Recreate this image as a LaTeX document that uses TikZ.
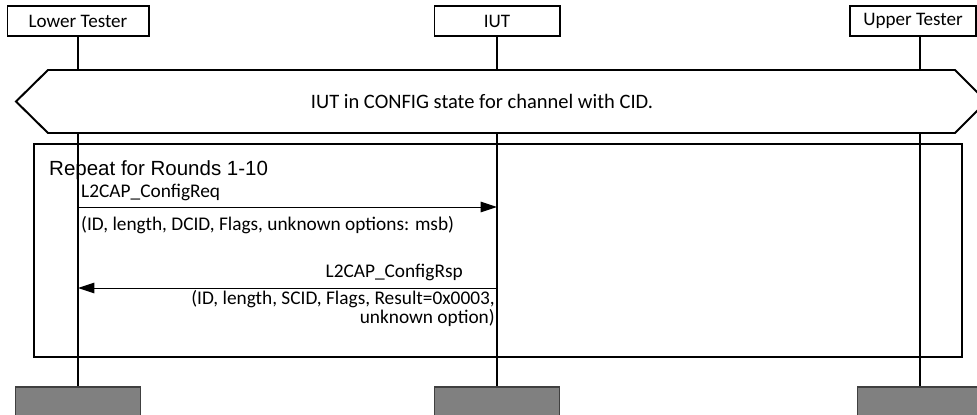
\documentclass[tikz,border=0pt]{standalone}
\usepackage{fontspec}
\setmainfont{Carlito}
\newfontfamily\arialfont{Liberation Sans}
\usetikzlibrary{arrows.meta}
\usetikzlibrary{positioning}
\tikzset{entity/.style={rectangle,draw=black,line width=1.7pt,fill=white,minimum height=0.9cm,inner sep=0pt,font=\fontsize{16.3}{17}\selectfont}}
\tikzset{endbox/.style={rectangle,draw=black!75,line width=1pt,fill=gray,minimum width=3.75cm,minimum height=1.2cm,inner sep=0pt}}
\tikzset{lifeline/.style={line width=1.7pt}}
\tikzset{msg/.style={line width=0.85pt,-{Triangle[length=14pt,width=9pt]}}}
\tikzset{lbl/.style={inner sep=0pt,font=\fontsize{16.5}{13.4}\selectfont}}

\begin{document}
\begin{tikzpicture}[x=0.03cm,y=-0.03cm]
\useasboundingbox (0,0) rectangle (977,414);

% entities
\node[entity, minimum width=4.23cm] (lt) at (78,21) {Lower Tester};
\node[entity, minimum width=3.75cm] (iut) at (497,21) {IUT};
\node[entity, minimum width=3.78cm] (ut) at (913,21) {Upper Tester};

\node[endbox] (ltend) at (78,407) {};
\node[endbox] (iutend) at (497,407) {};
\node[endbox] (utend) at (920,407) {};

\draw[lifeline] (lt.south -| ltend) -- (ltend);
\draw[lifeline] (iut) -- (iutend);
\draw[lifeline] (ut.south -| utend) -- (utend);

% state
\draw[line width=1.7pt, fill=white] (16,101.5) -- (48,70) -- (955,70) -- (986.5,101.5) -- (955,133) -- (48,133) -- cycle;
\node[lbl, font=\fontsize{17.5}{18}\selectfont] (state) at (482,101) {IUT in CONFIG state for channel with CID.};

% loop
\draw[line width=1.7pt] (34,144) rectangle (962,357);
\node[lbl, font=\arialfont\fontsize{17.5}{18}\selectfont, anchor=base west] (rep) at (49,175) {Repeat for Rounds 1-10};

\coordinate (req) at (0,207);
\coordinate (rsp) at (0,288);
\draw[msg] (ltend |- req) -- (iutend |- req);
\draw[msg] (iutend |- rsp) -- (ltend |- rsp);

\node[lbl, anchor=base west] (reqname) at (81,197) {L2CAP\_ConfigReq};
\node[lbl, anchor=base west] (reqargs) at (81,230) {(ID, length, DCID, Flags, unknown options: msb)};
\node[lbl, anchor=base east] (rspname) at (463,277) {L2CAP\_ConfigRsp};
\node[lbl, anchor=base east, align=right] (rspargs) at (495,323) {(ID, length, SCID, Flags, Result=0x0003,\\ unknown option)};
\end{tikzpicture}
\end{document}
